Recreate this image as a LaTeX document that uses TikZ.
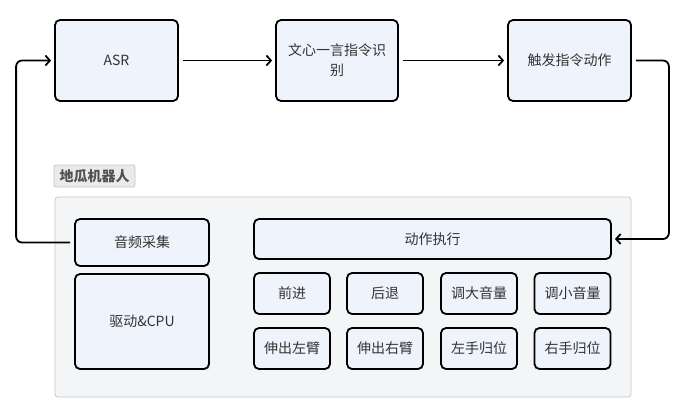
\documentclass[tikz,border=0pt]{standalone}
\usepackage{fontspec}
\setmainfont{Noto Sans CJK SC}
\usetikzlibrary{arrows.meta}
\definecolor{boxfill}{HTML}{EEF3FC}
\definecolor{groupfill}{HTML}{F4F5F7}
\definecolor{groupline}{HTML}{C4C7CC}
\definecolor{tagfill}{HTML}{E9EAEC}
\definecolor{txt}{HTML}{333333}
\tikzset{
  blk/.style={draw=black, line width=1.8pt, rounded corners=5pt, fill=boxfill,
    text=txt, font=\fontsize{14}{20}\selectfont, align=center, inner sep=0pt},
  act/.style={blk, minimum width=76pt, minimum height=41pt},
  link/.style={line width=1.8pt, rounded corners=6pt, ->, shorten <=4pt, shorten >=3pt}
}
\begin{document}
\begin{tikzpicture}[x=1pt, y=-1pt, >={Straight Barb[length=4.5pt,width=10pt]}]
    \useasboundingbox (0,0) rectangle (690,415);

    \node[draw=groupline, line width=0.8pt, fill=groupfill, rounded corners=3pt,
      minimum width=576pt, minimum height=200pt] (robot) at (343,297) {};
    \node[draw=groupline, line width=0.8pt, fill=tagfill, rounded corners=2pt,
      text=txt!85, font=\fontsize{14}{16}\selectfont\bfseries,
      minimum width=81pt, minimum height=22pt, inner sep=0pt] (tag) at (94.5,176) {地瓜机器人};

    \node[blk, minimum width=123pt, minimum height=81pt] (asr) at (116.5,60.5) {ASR};
    \node[blk, minimum width=122pt, minimum height=81pt] (ernie) at (337,60.5) {文心一言指令识\\别};
    \node[blk, minimum width=123pt, minimum height=81pt] (trig) at (569.5,60.5) {触发指令动作};

    \node[blk, minimum width=134pt, minimum height=47pt] (audio) at (142,242.5) {音频采集};
    \node[blk, minimum width=134pt, minimum height=95pt] (cpu) at (142,321.5) {驱动\&CPU};
    \node[blk, minimum width=357pt, minimum height=40pt] (exec) at (432.5,239) {动作执行};

    \node[act] (fwd) at (292,293.5) {前进};
    \node[act] (back) at (385,293.5) {后退};
    \node[act] (volup) at (479,293.5) {调大音量};
    \node[act] (voldn) at (572.5,293.5) {调小音量};
    \node[act] (larm) at (292,348.5) {伸出左臂};
    \node[act] (rarm) at (385,348.5) {伸出右臂};
    \node[act] (lhand) at (479,348.5) {左手归位};
    \node[act] (rhand) at (572.5,348.5) {右手归位};

    \draw[link] (asr) -- (ernie);
    \draw[link] (ernie) -- (trig);
    \draw[link] (trig.east) -- ++(37,0) |- (exec.east);
    \draw[link] (audio.west) -- ++(-58,0) |- (asr.west);
  \end{tikzpicture}
\end{document}
